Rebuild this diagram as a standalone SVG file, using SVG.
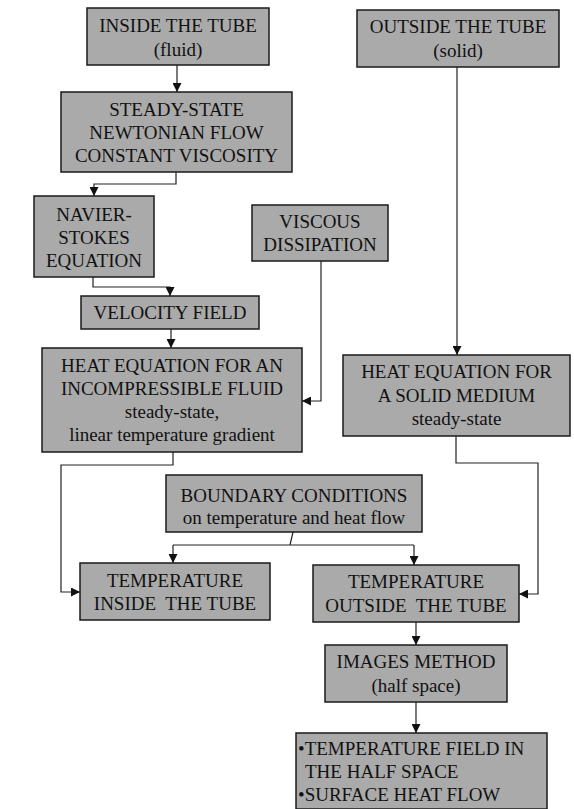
<svg xmlns="http://www.w3.org/2000/svg" width="574" height="809" viewBox="0 0 574 809">
<style>
.box{fill:#aaaaaa;stroke:#1a1a1a;stroke-width:1.5}
text{font-family:"Liberation Serif","Times New Roman",serif;font-size:19px;fill:#111}
.c{text-anchor:middle}
.ln{fill:none;stroke:#222;stroke-width:1.2}
</style>
<defs>
<marker id="ah" viewBox="0 0 10 10" refX="10" refY="5" markerWidth="9" markerHeight="9" markerUnits="userSpaceOnUse" orient="auto">
<path d="M0,0 L10,5 L0,10 z" fill="#111"/>
</marker>
</defs>
<rect width="574" height="809" fill="#fff"/>
<g id="connectors">
<path class="ln" d="M177,65 V92" marker-end="url(#ah)"/>
<path class="ln" d="M176,172 V184 H94 V196" marker-end="url(#ah)"/>
<path class="ln" d="M93,277 V287 H170 V296" marker-end="url(#ah)"/>
<path class="ln" d="M171,329 V348" marker-end="url(#ah)"/>
<path class="ln" d="M321,261 V401 H302" marker-end="url(#ah)"/>
<path class="ln" d="M457,67 V355" marker-end="url(#ah)"/>
<path class="ln" d="M173,452 V465 H61 V592 H80" marker-end="url(#ah)"/>
<path class="ln" d="M456,436 V463 H538 V594 H519" marker-end="url(#ah)"/>
<path class="ln" d="M293,532 L290,545"/>
<path class="ln" d="M173,545 H414"/>
<path class="ln" d="M173,545 V563" marker-end="url(#ah)"/>
<path class="ln" d="M414,545 V565" marker-end="url(#ah)"/>
<path class="ln" d="M416,622 V645" marker-end="url(#ah)"/>
<path class="ln" d="M416,702 V733" marker-end="url(#ah)"/>
</g>
<g id="inside">
<rect class="box" x="87" y="8" width="182" height="57"/>
<text class="c" x="178" y="32">INSIDE THE TUBE</text>
<text class="c" x="178" y="56">(fluid)</text>
</g>
<g id="outside">
<rect class="box" x="357" y="10" width="202" height="57"/>
<text class="c" x="458" y="33">OUTSIDE THE TUBE</text>
<text class="c" x="458" y="57">(solid)</text>
</g>
<g id="steady">
<rect class="box" x="61" y="92" width="231" height="80"/>
<text class="c" x="176.5" y="116">STEADY-STATE</text>
<text class="c" x="176.5" y="139">NEWTONIAN FLOW</text>
<text class="c" x="176.5" y="162">CONSTANT VISCOSITY</text>
</g>
<g id="navier">
<rect class="box" x="34" y="196" width="120" height="81"/>
<text class="c" x="94" y="221">NAVIER-</text>
<text class="c" x="94" y="244">STOKES</text>
<text class="c" x="94" y="267">EQUATION</text>
</g>
<g id="viscous">
<rect class="box" x="252" y="205" width="136" height="56"/>
<text class="c" x="320" y="228">VISCOUS</text>
<text class="c" x="320" y="251">DISSIPATION</text>
</g>
<g id="velocity">
<rect class="box" x="81" y="296" width="178" height="33"/>
<text class="c" x="170" y="319">VELOCITY FIELD</text>
</g>
<g id="heatfluid">
<rect class="box" x="42" y="348" width="260" height="104"/>
<text class="c" x="172" y="372">HEAT EQUATION FOR AN</text>
<text class="c" x="172" y="395">INCOMPRESSIBLE FLUID</text>
<text class="c" x="172" y="418">steady-state,</text>
<text class="c" x="172" y="441">linear temperature gradient</text>
</g>
<g id="heatsolid">
<rect class="box" x="343" y="355" width="227" height="81"/>
<text class="c" x="456.5" y="378">HEAT EQUATION FOR</text>
<text class="c" x="456.5" y="402">A SOLID MEDIUM</text>
<text class="c" x="456.5" y="425">steady-state</text>
</g>
<g id="boundary">
<rect class="box" x="166" y="475" width="256" height="57"/>
<text class="c" x="294" y="502">BOUNDARY CONDITIONS</text>
<text class="c" x="294" y="524">on temperature and heat flow</text>
</g>
<g id="tempinside">
<rect class="box" x="80" y="563" width="190" height="57"/>
<text class="c" x="175" y="587">TEMPERATURE</text>
<text class="c" x="175" y="610" xml:space="preserve">INSIDE  THE TUBE</text>
</g>
<g id="tempoutside">
<rect class="box" x="313" y="565" width="206" height="57"/>
<text class="c" x="416" y="588">TEMPERATURE</text>
<text class="c" x="416" y="612" xml:space="preserve">OUTSIDE  THE TUBE</text>
</g>
<g id="images">
<rect class="box" x="325" y="645" width="182" height="57"/>
<text class="c" x="416" y="668">IMAGES METHOD</text>
<text class="c" x="416" y="692">(half space)</text>
</g>
<g id="result">
<rect class="box" x="296" y="733" width="251" height="76"/>
<text x="298" y="755">•TEMPERATURE FIELD IN</text>
<text x="305" y="778">THE HALF SPACE</text>
<text x="298" y="801">•SURFACE HEAT FLOW</text>
</g>
</svg>
